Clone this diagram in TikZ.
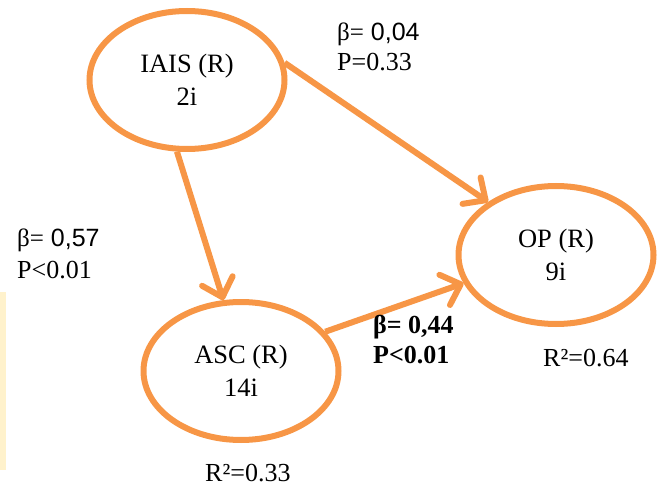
\documentclass[tikz,border=0pt]{standalone}
\usepackage{fontspec}
\setmainfont{Liberation Serif}
\newfontfamily\arialfont{Liberation Sans}
\usetikzlibrary{shapes.geometric,arrows.meta}
\definecolor{pathorange}{HTML}{F79646}
\definecolor{stripyellow}{HTML}{FFF2CC}
\tikzset{
  construct/.style={ellipse,draw=pathorange,line width=6pt,minimum width=195pt,
    minimum height=138pt,inner sep=0pt,align=center,font=\fontsize{26.5}{33}\selectfont},
  path arrow/.style={draw=pathorange,line width=6pt,
    -{Straight Barb[length=17pt,width=32pt,round]}},
  stat/.style={anchor=base west,inner sep=0pt,font=\fontsize{26}{31}\selectfont},
}
\begin{document}
\begin{tikzpicture}[x=1pt,y=-1pt]
  \useasboundingbox (0,0) rectangle (658,486);
  \fill[stripyellow] (0,292) rectangle (6,470);
  % constructs
  \node[construct] (iais) at (187,80) {IAIS (R)\\2i};
  \node[construct] (op) at (556,255) {OP (R)\\9i};
  \node[construct] (asc) at (241,371) {ASC (R)\\14i};
  % paths
  \draw[path arrow] (iais.10) -- (op.142);
  \draw[path arrow] (iais.262) -- (asc.104);
  \draw[path arrow] (asc.25) -- (op.197);
  % coefficients
  \node[stat] (b1) at (337,41) {\fontsize{25}{31}\selectfont β=\arialfont{} 0,04};
  \node[stat] (p1) at (337,71) {P=0.33};
  \node[stat] (b2) at (17,247) {\fontsize{25}{31}\selectfont β=\arialfont{} 0,57};
  \node[stat] (p2) at (17,278) {P<0.01};
  \node[stat] (b3) at (373,333) {\bfseries β= 0,44};
  \node[stat] (p3) at (373,363) {\bfseries P<0.01};
  \node[stat] (r1) at (543,366) {R²=0.64};
  \node[stat] (r2) at (205,481) {R²=0.33};
\end{tikzpicture}
\end{document}
